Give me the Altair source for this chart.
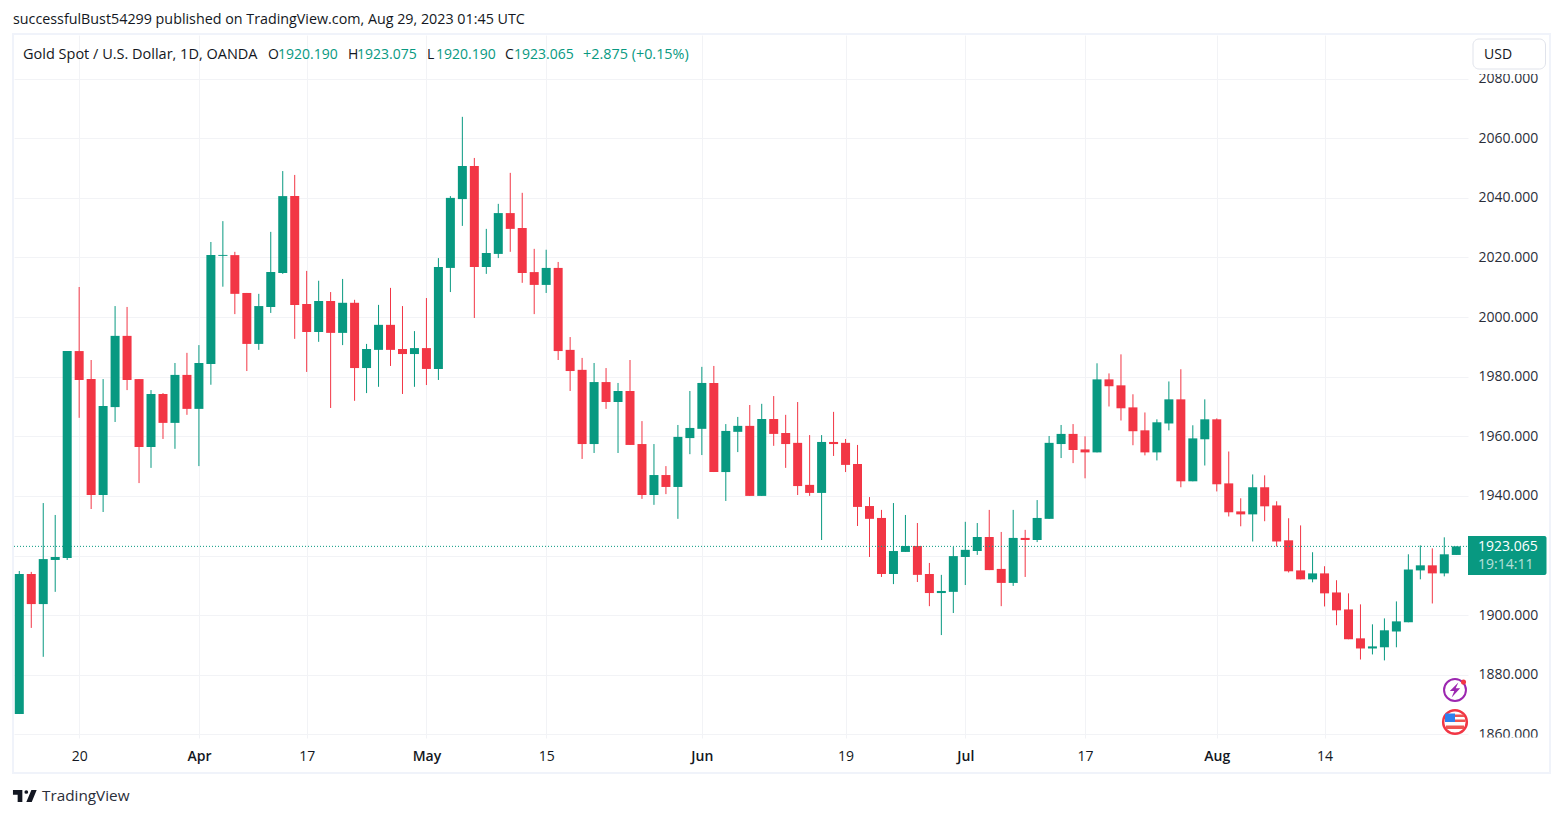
import altair as alt
import pandas as pd

opens = [1866.8,1913.8,1903.7,1918.5,1919.2,1988.6,1979.2,1940.3,1969.8,1993.7,
1979.2,1956.4,1974.2,1964.5,1980.6,1969.2,1984.3,2020.5,2020.8,2008.1,
1991.0,2003.4,2014.8,2040.6,2004.4,1995.0,2005.4,1994.7,2004.8,1982.9,
1989.0,1997.4,1989.3,1987.6,1989.6,1982.6,2016.5,2039.6,2050.7,2016.8,
2021.2,2034.9,2029.9,2015.1,2010.8,2016.5,1989.0,1982.3,1957.4,1978.2,
1971.5,1975.2,1957.4,1940.3,1947.0,1943.0,1959.4,1962.5,1977.9,1948.0,
1961.5,1963.5,1940.0,1965.8,1961.1,1957.8,1943.7,1941.0,1958.1,1957.8,
1950.7,1936.6,1932.6,1913.8,1921.2,1923.2,1913.8,1907.4,1907.8,1919.5,
1921.5,1926.2,1915.5,1910.8,1925.9,1925.2,1932.3,1957.4,1960.8,1955.6,
1954.6,1979.1,1977.1,1969.7,1962.0,1954.6,1964.3,1972.4,1944.9,1959.0,
1965.7,1944.2,1934.8,1933.8,1942.9,1936.8,1925.1,1915.0,1912.0,1914.0,
1907.6,1901.9,1892.2,1888.8,1889.2,1894.5,1897.6,1915.0,1916.7,1914.0,1920.19]
highs = [1914.8,1914.5,1937.6,1933.6,1988.6,2010.1,1985.6,1979.2,2003.7,2003.4,
1979.2,1975.5,1974.5,1984.6,1988.0,1990.6,2025.2,2032.2,2021.9,2008.1,
2007.8,2028.6,2049.0,2047.7,2015.5,2012.2,2008.4,2012.8,2005.8,1991.0,
2004.1,2009.8,2003.7,1995.3,2006.4,2019.8,2040.6,2067.2,2053.4,2029.6,
2038.0,2048.4,2041.7,2022.9,2022.6,2018.5,1993.3,1986.3,1984.6,1982.9,
1977.9,1985.6,1965.1,1957.4,1950.0,1963.8,1975.2,1983.3,1983.6,1964.1,
1966.5,1970.5,1970.9,1973.5,1967.2,1971.5,1960.4,1960.4,1968.2,1959.1,
1957.1,1939.6,1935.3,1937.6,1933.6,1930.9,1917.5,1913.5,1922.9,1931.3,
1930.9,1935.3,1927.9,1935.3,1928.6,1938.6,1960.1,1963.8,1964.1,1960.0,
1984.5,1981.1,1987.5,1974.1,1968.0,1965.7,1978.4,1982.5,1963.7,1972.4,
1966.0,1954.9,1939.2,1947.2,1946.9,1938.2,1932.5,1930.1,1921.1,1916.4,
1911.7,1907.3,1903.6,1896.9,1898.9,1904.6,1920.4,1923.4,1922.4,1926.1,1923.075]
lows = [1866.8,1895.7,1886.0,1907.8,1918.5,1966.2,1935.6,1934.6,1964.8,1975.5,
1944.3,1949.4,1959.1,1955.8,1967.2,1950.0,1977.3,2010.2,2001.0,1981.9,
1989.0,2001.4,2014.5,1992.7,1981.6,1991.7,1969.5,1990.6,1971.9,1974.5,
1976.6,1983.6,1974.2,1976.6,1977.2,1978.9,2008.4,2030.6,1999.7,2014.5,
2019.8,2021.9,2011.5,2001.0,2008.1,1985.6,1975.2,1952.4,1954.4,1969.2,
1954.4,1957.1,1939.0,1937.0,1940.6,1932.3,1954.0,1953.7,1948.0,1938.3,
1954.7,1940.0,1940.0,1956.8,1949.4,1940.3,1940.0,1925.2,1953.4,1948.0,
1929.9,1919.5,1912.8,1910.4,1921.2,1911.1,1903.0,1893.3,1900.7,1910.1,
1920.2,1915.1,1903.0,1909.8,1912.8,1924.5,1932.3,1952.7,1951.0,1945.9,
1954.6,1970.0,1965.3,1957.0,1953.6,1951.9,1962.0,1942.9,1944.9,1950.2,
1941.5,1933.1,1929.8,1924.7,1931.5,1923.0,1914.3,1912.0,1911.0,1902.9,
1896.6,1891.9,1885.1,1886.8,1884.8,1889.2,1897.6,1912.0,1903.9,1913.0,1920.19]
closes = [1913.8,1903.7,1918.8,1919.5,1988.6,1978.9,1940.3,1970.2,1993.7,1978.9,
1956.4,1974.2,1964.5,1980.6,1969.2,1984.6,2020.8,2020.7,2007.8,1991.0,
2003.7,2015.1,2040.6,2004.1,1995.0,2005.4,1994.7,2004.8,1982.9,1989.3,
1997.4,1989.0,1987.6,1989.6,1982.6,2016.8,2040.0,2050.7,2016.8,2021.5,
2034.9,2029.6,2014.8,2010.8,2016.5,1988.6,1981.9,1957.4,1978.2,1971.5,
1975.2,1957.1,1940.3,1947.0,1943.0,1959.8,1962.8,1977.9,1948.0,1961.8,
1963.5,1940.0,1965.8,1960.8,1957.4,1943.3,1941.0,1958.1,1957.4,1950.4,
1936.3,1932.3,1913.8,1921.5,1923.2,1913.5,1907.4,1908.1,1919.8,1921.9,
1926.2,1915.1,1910.8,1925.9,1925.2,1932.6,1957.8,1960.8,1955.4,1954.6,
1979.1,1976.8,1969.4,1961.7,1954.6,1964.7,1972.4,1944.9,1959.3,1965.7,
1943.9,1934.5,1933.8,1942.9,1936.5,1924.7,1914.7,1912.0,1914.0,1907.3,
1901.6,1891.9,1888.8,1889.5,1894.9,1897.9,1915.3,1916.7,1914.0,1920.4,1923.065]

tick_positions = [5, 15, 24, 34, 44, 57, 69, 79, 89, 100, 109]
tick_labels = ["20", "Apr", "17", "May", "15", "Jun", "19", "Jul", "17", "Aug", "14"]
month_ticks = [15, 34, 57, 79, 100]
price_ticks = [1860, 1880, 1900, 1920, 1940, 1960, 1980, 2000, 2020, 2040, 2060, 2080]
last_price = 1923.065

GREEN, RED = "#089981", "#f23645"
INK, GRID, FRAME = "#131722", "#f2f3f6", "#f0f3fa"
FONT = "Open Sans"
PW, PH = 1454, 703
PLOT_X, PLOT_Y = 14, 35

df = pd.DataFrame({"i": range(len(opens)), "open": opens, "high": highs, "low": lows, "close": closes})
df["dir"] = ["up" if c >= o else "down" for o, c in zip(opens, closes)]

x_scale = alt.Scale(domain=[-0.442, 120.98], nice=False, zero=False, padding=0)
y_scale = alt.Scale(domain=[1858.76, 2094.66], nice=False, zero=False)
color = alt.Color("dir:N", scale=alt.Scale(domain=["up", "down"], range=[GREEN, RED]), legend=None)

label_expr = "[" + ",".join(f"'{t}'" for t in tick_labels) + "][indexof(" + str(tick_positions) + ",datum.value)]"
x_axis = alt.Axis(values=tick_positions, labelExpr=label_expr, title=None, grid=True, gridColor=GRID,
                  domain=False, ticks=False, labelPadding=11, labelFont=FONT, labelFontSize=14,
                  labelColor=INK, labelAngle=0,
                  labelFontWeight={"condition": {"test": f"indexof({month_ticks},datum.value)>=0", "value": 600},
                                   "value": 400})
# the 1920 label sits wholly under the last-price tag in the reference, so only its grid line is kept
y_axis = alt.Axis(values=price_ticks, labelExpr="datum.value==1920 ? '' : format(datum.value,'.3f')",
                  orient="right", title=None, grid=True, gridColor=GRID,
                  domain=False, ticks=False, labelPadding=10, labelFont=FONT, labelFontSize=14,
                  labelColor="#2a2e39")

base = alt.Chart(df)
wicks = base.mark_rule(strokeWidth=1).encode(
    x=alt.X("i:Q", scale=x_scale, axis=x_axis),
    y=alt.Y("low:Q", scale=y_scale, axis=y_axis),
    y2="high:Q", color=color)
bodies = base.mark_bar(size=9, stroke=None).encode(
    x=alt.X("i:Q", scale=x_scale), y=alt.Y("open:Q", scale=y_scale), y2="close:Q", color=color)
dojis = base.transform_calculate(d="abs(datum.open-datum.close)").transform_filter("datum.d<0.4").mark_tick(
    width=9, thickness=1, orient="horizontal").encode(
    x=alt.X("i:Q", scale=x_scale), y=alt.Y("close:Q", scale=y_scale), color=color)
price_line = alt.Chart(pd.DataFrame({"p": [last_price]})).mark_rule(
    strokeDash=[1, 2], strokeWidth=1, color=GREEN).encode(
    y=alt.Y("p:Q", scale=y_scale), x=alt.value(0), x2=alt.value(PW))


def rect(x0, y0, x1, y1, **kw):
    return alt.Chart(pd.DataFrame({"a": [0]})).mark_rect(**kw).encode(
        x=alt.value(x0 - PLOT_X), x2=alt.value(x1 - PLOT_X), y=alt.value(y0 - PLOT_Y), y2=alt.value(y1 - PLOT_Y))


def text(s, x, y, **kw):
    kw.setdefault("font", FONT)
    kw.setdefault("fontSize", 14)
    kw.setdefault("color", INK)
    kw.setdefault("align", "left")
    kw.setdefault("baseline", "middle")
    return alt.Chart(pd.DataFrame({"t": [s]})).mark_text(**kw).encode(
        x=alt.value(x - PLOT_X), y=alt.value(y - PLOT_Y), text="t:N")


def glyph(path, x, y, size, **kw):
    return alt.Chart(pd.DataFrame({"a": [0]})).mark_point(shape=path, size=size, **kw).encode(
        x=alt.value(x - PLOT_X), y=alt.value(y - PLOT_Y))


masks = [rect(1468, 36, 1549, 74, fill="white"), rect(1468, 737.6, 1549, 771, fill="white")]
frame = rect(13, 34, 1550, 773, fill=None, stroke=FRAME, strokeWidth=2)
usd = [rect(1473, 39, 1545.5, 69, fill="white", stroke="#e0e3eb", strokeWidth=1, cornerRadius=6),
       text("USD", 1484, 55, fontSize=14)]
price_tag = [rect(1468, 536, 1546.5, 575, fill=GREEN, cornerRadiusTopRight=2, cornerRadiusBottomRight=2),
             text("1923.065", 1478, 547, color="white"),
             text("19:14:11", 1478, 565, color="white", opacity=0.7)]
header = [text("successfulBust54299 published on TradingView.com, Aug 29, 2023 01:45 UTC", 13, 20, fontSize=14.3),
          text("Gold Spot / U.S. Dollar, 1D, OANDA", 23, 55, fontSize=14.5),
          text("O", 268, 55), text("1920.190", 278, 55, color=GREEN),
          text("H", 348, 55), text("1923.075", 357, 55, color=GREEN),
          text("L", 427, 55), text("1920.190", 436, 55, color=GREEN),
          text("C", 505, 55), text("1923.065", 514, 55, color=GREEN),
          text("+2.875 (+0.15%)", 583, 55, color=GREEN, fontSize=14.4)]
footer = [text("TradingView", 42, 796, fontSize=15.3, color="#2a2e39"),
          glyph("M-0.22 0.5H-0.61V-0.11H-1V-0.5H-0.22ZM0.56 0.5H0.11L0.53 -0.5H0.97Z", 25, 796, 580,
                filled=True, color=INK, opacity=1, strokeWidth=0),
          glyph("circle", 26.3, 792, 14, filled=True, color=INK, opacity=1, strokeWidth=0)]
bolt = "M0.45 -1L-0.7 0.15H-0.1L-0.45 1L0.7 -0.25H0.1Z"
icons = [glyph("circle", 1455, 690, 480, filled=True, fill="white", stroke="#9c27b0", strokeWidth=2, opacity=1),
         glyph(bolt, 1455, 690, 220, filled=True, color="#9c27b0", opacity=1, strokeWidth=0),
         glyph("circle", 1463.5, 682, 26, filled=True, color=RED, opacity=1, strokeWidth=0),
         glyph("circle", 1455, 722, 560, filled=True, fill="white", stroke=RED, strokeWidth=2.5, opacity=1),
         rect(1445, 713.5, 1455, 722, fill="#2f80ed"),
         rect(1455, 714.5, 1464, 717, fill="#ef5350"),
         rect(1455, 719.5, 1465.5, 722, fill="#ef5350"),
         rect(1446, 725.5, 1464, 729, fill="#ef5350")]

layers = [wicks, bodies, dojis, price_line] + masks + [frame] + usd + price_tag + header + footer + icons
chart = alt.layer(*layers).resolve_scale(color="shared").properties(
    width=PW, height=PH, autosize="none",
    padding={"left": PLOT_X - 8, "top": PLOT_Y - 8, "right": 87, "bottom": 70},
    background="white",
).configure_view(stroke=None)

chart.save("out.html", embed_options={"renderer": "svg", "actions": False})
